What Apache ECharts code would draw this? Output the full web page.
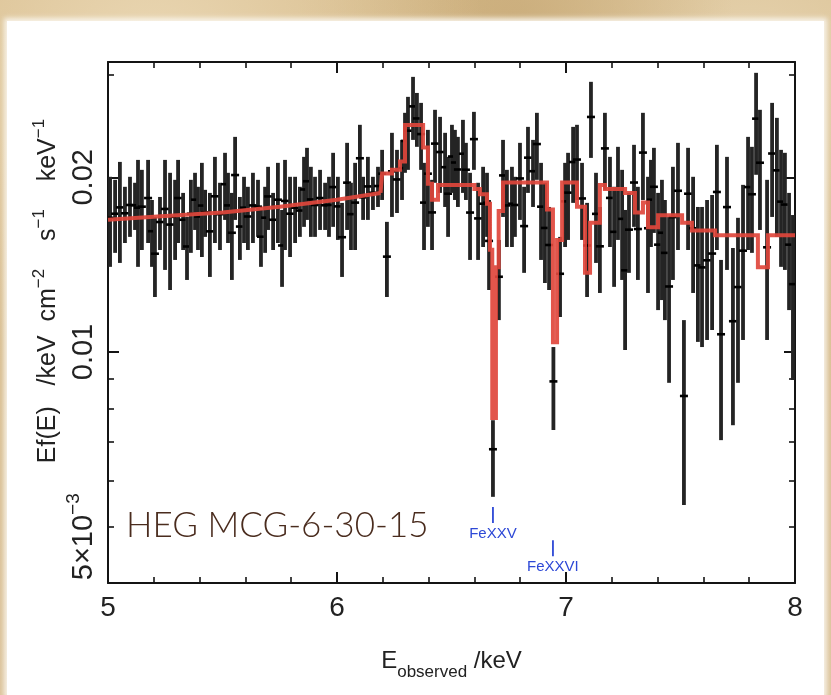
<!DOCTYPE html>
<html>
<head>
<meta charset="utf-8">
<script src="https://cdn.jsdelivr.net/npm/echarts@6/dist/echarts.min.js"></script>
<style>
html,body{margin:0;padding:0;width:831px;height:695px;overflow:hidden;}
body{background:
  radial-gradient(ellipse at 18% 8%, rgba(236,218,184,0.9) 0%, rgba(236,218,184,0) 35%),
  radial-gradient(ellipse at 62% 4%, rgba(200,170,120,0.8) 0%, rgba(200,170,120,0) 30%),
  radial-gradient(ellipse at 90% 10%, rgba(232,214,180,0.9) 0%, rgba(232,214,180,0) 30%),
  linear-gradient(#d5b987, #dcc49c);}
#panel{position:absolute;left:7px;top:21px;width:817px;height:674px;background:#ffffff;
  box-shadow:0 0 5px 3px rgba(250,246,238,0.9);}
#c{position:absolute;left:0;top:0;width:831px;height:695px;}
</style>
</head>
<body>
<div id="panel"></div>
<div id="c"></div>
<script>
// ---------- data ----------
const energy = [
  5.009,5.031,5.052,5.074,5.096,5.118,5.131,5.148,5.175,5.192,
  5.205,5.227,5.249,5.271,5.293,5.306,5.328,5.345,5.362,5.380,
  5.393,5.410,5.424,5.445,5.467,5.489,5.511,5.524,5.541,5.555,
  5.576,5.594,5.611,5.633,5.655,5.668,5.686,5.699,5.721,5.742,
  5.760,5.773,5.795,5.817,5.838,5.856,5.869,5.886,5.904,5.926,
  5.948,5.965,5.983,6.004,6.022,6.044,6.061,6.079,6.100,6.114,
  6.135,6.157,6.179,6.197,6.218,6.240,6.262,6.284,6.297,6.310,
  6.332,6.349,6.367,6.380,6.397,6.415,6.428,6.450,6.472,6.485,
  6.502,6.515,6.528,6.550,6.563,6.581,6.598,6.616,6.638,6.655,
  6.664,6.681,6.707,6.725,6.742,6.764,6.777,6.799,6.817,6.834,
  6.856,6.873,6.891,6.908,6.926,6.945,6.974,6.996,7.009,7.031,
  7.048,7.070,7.092,7.109,7.131,7.148,7.170,7.192,7.210,7.227,
  7.245,7.258,7.275,7.297,7.314,7.336,7.358,7.371,7.384,7.402,
  7.419,7.432,7.450,7.467,7.489,7.515,7.533,7.555,7.576,7.594,
  7.616,7.638,7.659,7.677,7.703,7.729,7.751,7.773,7.795,7.812,
  7.830,7.847,7.878,7.900,7.921,7.939,7.956,7.974,7.991
];
const flux = [
  0.01703,0.01731,0.01775,0.01734,0.01792,0.01790,0.01773,0.01780,0.01842,0.01615,
  0.01477,0.01675,0.01764,0.01658,0.01710,0.01842,0.01690,0.01520,0.01731,0.01830,
  0.01712,0.01788,0.01741,0.01614,0.01855,0.01728,0.01946,0.01789,0.01605,0.02018,
  0.01645,0.01773,0.01712,0.01789,0.01780,0.01580,0.01704,0.01854,0.01690,0.01830,
  0.01526,0.01821,0.01731,0.01773,0.01753,0.01906,0.01969,0.01832,0.01792,0.01842,
  0.01790,0.01792,0.01924,0.01782,0.01577,0.01958,0.01728,0.01809,0.02157,0.01847,
  0.01929,0.01881,0.01932,0.02029,0.01460,0.02048,0.01983,0.02074,0.02310,0.02406,
  0.02650,0.02526,0.02374,0.01809,0.02029,0.01740,0.02286,0.02211,0.02082,0.01874,
  0.02172,0.02121,0.02063,0.02196,0.02061,0.01739,0.02327,0.01699,0.01801,0.01808,
  0.01554,0.00680,0.01348,0.02015,0.01789,0.01801,0.01792,0.01991,0.01648,0.02162,
  0.02049,0.02282,0.01780,0.01636,0.01529,0.00890,0.01364,0.01818,0.01882,0.02125,
  0.02146,0.01839,0.01526,0.02541,0.01730,0.01521,0.02243,0.01843,0.01611,0.01909,
  0.01696,0.01383,0.01625,0.01959,0.01629,0.02206,0.01634,0.01830,0.01926,0.01531,
  0.01605,0.01482,0.01297,0.01708,0.01896,0.00840,0.01874,0.01634,0.01410,0.01399,
  0.01439,0.01478,0.01887,0.01073,0.01777,0.01130,0.01294,0.01495,0.01924,0.01870,
  0.02524,0.02119,0.01515,0.02198,0.02056,0.01816,0.01795,0.01531,0.01309
];
const fluxLo = [
  0.01402,0.01482,0.01424,0.01541,0.01579,0.01623,0.01402,0.01499,0.01541,0.01402,
  0.01244,0.01499,0.01385,0.01279,0.01441,0.01541,0.01499,0.01331,0.01482,0.01623,
  0.01499,0.01458,0.01579,0.01347,0.01541,0.01499,0.01689,0.01541,0.01331,0.01689,
  0.01441,0.01541,0.01499,0.01541,0.01579,0.01402,0.01482,0.01623,0.01499,0.01541,
  0.01295,0.01499,0.01458,0.01541,0.01579,0.01643,0.01689,0.01579,0.01579,0.01623,
  0.01623,0.01579,0.01643,0.01560,0.01347,0.01623,0.01499,0.01499,0.01850,0.01689,
  0.01689,0.01757,0.01778,0.01828,0.01244,0.01709,0.01736,0.01828,0.02036,0.02060,
  0.02320,0.02257,0.02060,0.01499,0.01643,0.01499,0.01957,0.01880,0.01778,0.01579,
  0.01880,0.01828,0.01778,0.01880,0.01828,0.01441,0.02060,0.01441,0.01517,0.01579,
  0.01279,0.00563,0.01135,0.01709,0.01517,0.01517,0.01579,0.01689,0.01369,0.01880,
  0.01778,0.01980,0.01441,0.01315,0.01279,0.00734,0.01149,0.01517,0.01560,0.01807,
  0.01828,0.01560,0.01244,0.02160,0.01424,0.01264,0.01903,0.01517,0.01295,0.01560,
  0.01331,0.01008,0.01369,0.01643,0.01331,0.01828,0.01264,0.01517,0.01604,0.01181,
  0.01229,0.01135,0.00885,0.01331,0.01499,0.00545,0.01499,0.01264,0.01041,0.01020,
  0.01049,0.01091,0.01499,0.00705,0.01385,0.00748,0.00885,0.01049,0.01499,0.01482,
  0.02020,0.01623,0.01049,0.01709,0.01579,0.01402,0.01385,0.01181,0.00895
];
const fluxHi = [
  0.02004,0.01980,0.02126,0.01926,0.02004,0.01957,0.02143,0.02060,0.02143,0.01828,
  0.01709,0.01850,0.02143,0.02036,0.01980,0.02143,0.01880,0.01709,0.01980,0.02036,
  0.01926,0.02118,0.01903,0.01880,0.02169,0.01957,0.02204,0.02036,0.01880,0.02348,
  0.01850,0.02004,0.01926,0.02036,0.01980,0.01757,0.01926,0.02085,0.01880,0.02118,
  0.01757,0.02143,0.02004,0.02004,0.01926,0.02169,0.02248,0.02085,0.02004,0.02060,
  0.01957,0.02004,0.02204,0.02004,0.01807,0.02293,0.01957,0.02118,0.02463,0.02004,
  0.02169,0.02004,0.02085,0.02230,0.01676,0.02386,0.02230,0.02320,0.02583,0.02752,
  0.02979,0.02795,0.02687,0.02118,0.02414,0.01980,0.02614,0.02542,0.02386,0.02169,
  0.02463,0.02414,0.02348,0.02512,0.02293,0.02036,0.02593,0.01957,0.02085,0.02036,
  0.01828,0.00763,0.01560,0.02320,0.02060,0.02085,0.02004,0.02293,0.01926,0.02443,
  0.02320,0.02583,0.02118,0.01957,0.01778,0.01020,0.01579,0.02118,0.02204,0.02443,
  0.02463,0.02118,0.01807,0.02921,0.02036,0.01778,0.02583,0.02169,0.01926,0.02257,
  0.02060,0.01757,0.01880,0.02275,0.01926,0.02583,0.02004,0.02143,0.02248,0.01880,
  0.01980,0.01828,0.01709,0.02085,0.02293,0.01135,0.02248,0.02004,0.01778,0.01778,
  0.01828,0.01865,0.02275,0.01441,0.02169,0.01511,0.01703,0.01941,0.02348,0.02257,
  0.03027,0.02614,0.01980,0.02687,0.02532,0.02230,0.02204,0.01880,0.01722
];
// smooth continuum part of the red model
const modelContE = [5.0, 5.25, 5.5, 5.75, 6.0, 6.19];
const modelContV = [0.0169, 0.01715, 0.0174, 0.0178, 0.0183, 0.0188];
// binned (stepped) part of the red model, value holds until next energy
const modelStepE = [6.19,6.197,6.240,6.275,6.297,6.376,6.397,6.415,6.441,6.600,
  6.624,6.655,6.668,6.678,6.694,6.706,6.725,6.917,6.943,6.961,
  6.983,7.048,7.083,7.105,7.148,7.170,7.258,7.301,7.336,7.358,
  7.402,7.507,7.550,7.651,7.838,7.882,8.0];
const modelStepV = [0.0188,0.0203,0.0206,0.0213,0.0246,0.0225,0.0195,0.0183,0.0194,0.0191,
  0.0187,0.0180,0.0150,0.0077,0.0140,0.0175,0.0196,0.0176,0.0104,0.0156,
  0.0196,0.0178,0.0137,0.0167,0.0194,0.0191,0.0188,0.0174,0.0181,0.0164,
  0.0172,0.0167,0.0162,0.0159,0.0140,0.0159,0.0159];
const xTickValues = [5, 6, 7, 8];
const yMajorTicks = [0.01, 0.02];
const yMinorTicks = [0.005, 0.006, 0.007, 0.008, 0.009, 0.03];
const yLabelValues = [0.005, 0.01, 0.02];
const lineIdNames = ['FeXXV', 'FeXXVI'];
const lineIdEnergy = [6.681, 6.943];
const lineIdAnchor = [0.00524, 0.00459];

// ---------- chart ----------
const FONT = '"Liberation Sans", Arial, Helvetica, sans-serif';
const AX = '#141414';
const yMin = 0.004, yMax = 0.0316;
const chart = echarts.init(document.getElementById('c'));

function xAxisCfg(pos, labels) {
  return {
    type: 'value', position: pos, min: 5, max: 8, interval: 1,
    axisLine: { show: true, onZero: false, lineStyle: { color: AX, width: 2 } },
    axisTick: { show: true, inside: true, length: 11, lineStyle: { color: AX, width: 2 } },
    minorTick: { show: true, splitNumber: 5, length: 6, lineStyle: { color: AX, width: 1.6 } },
    splitLine: { show: false }, minorSplitLine: { show: false },
    axisLabel: { show: labels, fontSize: 28, color: '#222', margin: 11, fontFamily: FONT },
    name: labels ? '{e|E}{sub|observed}{e| /keV}' : '',
    nameLocation: 'middle', nameGap: 66,
    nameTextStyle: { color: '#222', fontFamily: FONT,
      rich: { e: { fontSize: 24, lineHeight: 32, verticalAlign: 'top', fontFamily: FONT, color: '#222' },
              sub: { fontSize: 17, lineHeight: 16, verticalAlign: 'bottom', fontFamily: FONT, color: '#222' } } }
  };
}
function yAxisCfg(pos, major, labels) {
  return {
    type: 'log', logBase: 10, position: pos, min: yMin, max: yMax,
    axisLine: { show: major, onZero: false, lineStyle: { color: AX, width: 2 } },
    axisTick: { show: true, inside: true, length: major ? 11 : 6,
      customValues: major ? yMajorTicks : yMinorTicks, lineStyle: { color: AX, width: major ? 2 : 1.6 } },
    minorTick: { show: false }, splitLine: { show: false },
    axisLabel: { show: labels, customValues: yLabelValues, rotate: 90, margin: 10,
      formatter: function (v) {
        if (Math.abs(v - 0.005) < 1e-7) return '{m|5×10}{s5|−3}';
        if (Math.abs(v - 0.01) < 1e-7) return '{m|0.01}';
        return '{m|0.02}';
      },
      rich: { m: { fontSize: 29, lineHeight: 34, verticalAlign: 'bottom', fontFamily: FONT, color: '#222' },
              s5: { fontSize: 19, lineHeight: 19, verticalAlign: 'top', fontFamily: FONT, color: '#222',
                    padding: [0, 20, 0, 0] } } }
  };
}

const errData = energy.map((e, i) => [e, flux[i], fluxLo[i], fluxHi[i]]);

chart.setOption({
  animation: false,
  grid: { left: 108, right: 36, top: 62, bottom: 112, containLabel: false },
  xAxis: [xAxisCfg('bottom', true), xAxisCfg('top', false)],
  yAxis: [yAxisCfg('left', true, true), yAxisCfg('left', false, false),
          yAxisCfg('right', true, false), yAxisCfg('right', false, false)],
  series: [
    {
      type: 'custom', name: 'data', xAxisIndex: 0, yAxisIndex: 0, clip: true, z: 2,
      data: errData,
      renderItem: function (params, api) {
        const e = api.value(0);
        const pc = api.coord([e, api.value(1)]);
        const pl = api.coord([e, api.value(2)]);
        const ph = api.coord([e, api.value(3)]);
        return { type: 'group', children: [
          { type: 'line', shape: { x1: pl[0], y1: pl[1], x2: ph[0], y2: ph[1] },
            style: { stroke: '#242424', lineWidth: 3.8 } },
          { type: 'line', shape: { x1: pc[0] - 4, y1: pc[1], x2: pc[0] + 4, y2: pc[1] },
            style: { stroke: '#000', lineWidth: 2.6 } }
        ] };
      }
    },
    {
      type: 'line', name: 'model continuum', xAxisIndex: 0, yAxisIndex: 0, z: 5,
      data: modelContE.map((e, i) => [e, modelContV[i]]),
      showSymbol: false, symbol: 'none',
      lineStyle: { color: '#e0473c', width: 4, opacity: 0.92 }
    },
    {
      type: 'line', name: 'model', xAxisIndex: 0, yAxisIndex: 0, z: 5, step: 'end',
      data: modelStepE.map((e, i) => [e, modelStepV[i]]),
      showSymbol: false, symbol: 'none',
      lineStyle: { color: '#e0473c', width: 4, opacity: 0.92, join: 'miter' }
    },
    {
      type: 'custom', name: 'lines', xAxisIndex: 0, yAxisIndex: 0, clip: false, z: 6,
      data: lineIdEnergy.map((e, i) => [e, lineIdAnchor[i], i]),
      renderItem: function (params, api) {
        const p = api.coord([api.value(0), api.value(1)]);
        const nm = lineIdNames[api.value(2)];
        return { type: 'group', children: [
          { type: 'line', shape: { x1: p[0], y1: p[1] - 8, x2: p[0], y2: p[1] + 8 },
            style: { stroke: '#2d48d6', lineWidth: 1.8 } },
          { type: 'text', x: p[0], y: p[1] + 19,
            style: { text: nm, fill: '#2d48d6', font: '15px ' + FONT, align: 'center', verticalAlign: 'middle' } }
        ] };
      }
    }
  ],
  graphic: [
    { type: 'text', x: 46, y: 291, rotation: Math.PI / 2, z: 10,
      style: { text: '{n|Ef(E)   /keV  cm}{s|−2}{n|    s}{s|−1}{n|    keV}{s|−1}',
        align: 'center', verticalAlign: 'middle',
        rich: { n: { fontSize: 25, lineHeight: 30, verticalAlign: 'bottom', fontFamily: FONT, fill: '#222' },
                s: { fontSize: 17, lineHeight: 14, verticalAlign: 'top', fontFamily: FONT, fill: '#222' } } } },
    { type: 'text', x: 126, y: 526, z: 10,
      style: { text: 'HEG MCG-6-30-15', font: '300 35px Lato, "Liberation Sans", sans-serif',
        fill: '#4a2c1e', align: 'left', verticalAlign: 'middle' } }
  ]
});
</script>
</body>
</html>
